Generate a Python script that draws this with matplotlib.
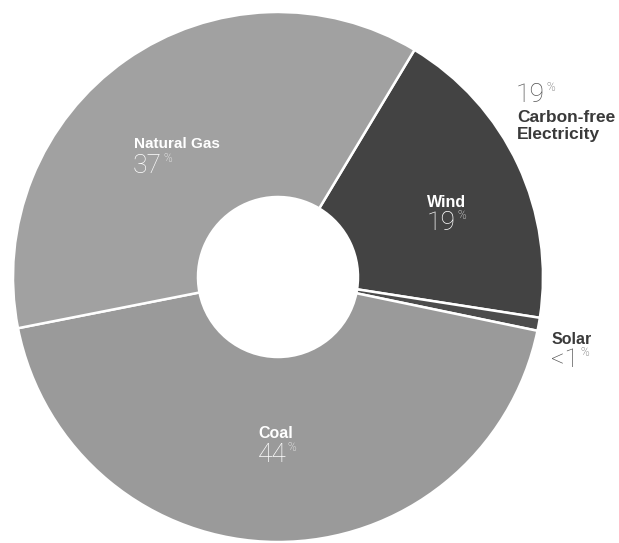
import matplotlib
matplotlib.use("Agg")
import matplotlib.pyplot as plt

# shares of electricity generation (percent)
sources = ["Wind", "Solar", "Coal", "Natural Gas"]
shares = [19, 0.8, 44, 37]
share_labels = ["19", "<1", "44", "37"]
carbon_free_label = "19"

colors = ["#434343", "#4c4c4c", "#9a9a9a", "#a1a1a1"]

W, H = 619, 543
fig = plt.figure(figsize=(W / 100, H / 100), dpi=100)

# donut placed so centre is at (278, 277) px, radius 265 px
cx, cy, r = 278, 277, 265
ax = fig.add_axes([(cx - r) / W, (H - cy - r) / H, 2 * r / W, 2 * r / H])

ax.pie(shares, colors=colors, startangle=59, counterclock=False, radius=1,
       wedgeprops=dict(width=1 - 80 / 265, edgecolor="white", linewidth=1.8))
# pie resets the limits, so set them afterwards
ax.set_xlim(-1, 1)
ax.set_ylim(-1, 1)
ax.axis("off")

label_font = ["Liberation Sans", "DejaVu Sans"]
num_font = ["Roboto", "DejaVu Sans"]
renderer = fig.canvas.get_renderer()


def fx(x):
    return x / W


def fy(y):
    return 1 - y / H


def pct(x, y, num, color, size=19):
    t = fig.text(fx(x), fy(y), num, family=num_font, weight="light",
                 fontsize=size, color=color, ha="left", va="baseline")
    bb = t.get_window_extent(renderer=renderer)
    fig.text(fx(bb.x1 + 1), fy(y - 11), "%", family=num_font, weight="light",
             fontsize=8.5, color=color, ha="left", va="baseline")


def name(x, y, txt, color, size=11):
    fig.text(fx(x), fy(y), txt, family=label_font, weight="bold",
             fontsize=size, color=color, ha="left", va="baseline")


# inside labels
name(134, 148, sources[3], "white")
pct(133, 173, share_labels[3], "white")
name(427, 207, sources[0], "white", size=11.5)
pct(427, 230, share_labels[0], "white")
name(258, 438, sources[2], "white", size=11.5)
pct(258, 462, share_labels[2], "white")

# outside labels
dark = "#3a3a3a"
pct(516, 102, carbon_free_label, "#555555")
name(517, 122, "Carbon-free", dark, size=12.5)
name(517, 139, "Electricity", dark, size=12.5)
name(552, 344, sources[1], dark, size=11.5)
pct(551, 367, share_labels[1], "#555555")

fig.savefig("out.png", dpi=100, facecolor="white")
